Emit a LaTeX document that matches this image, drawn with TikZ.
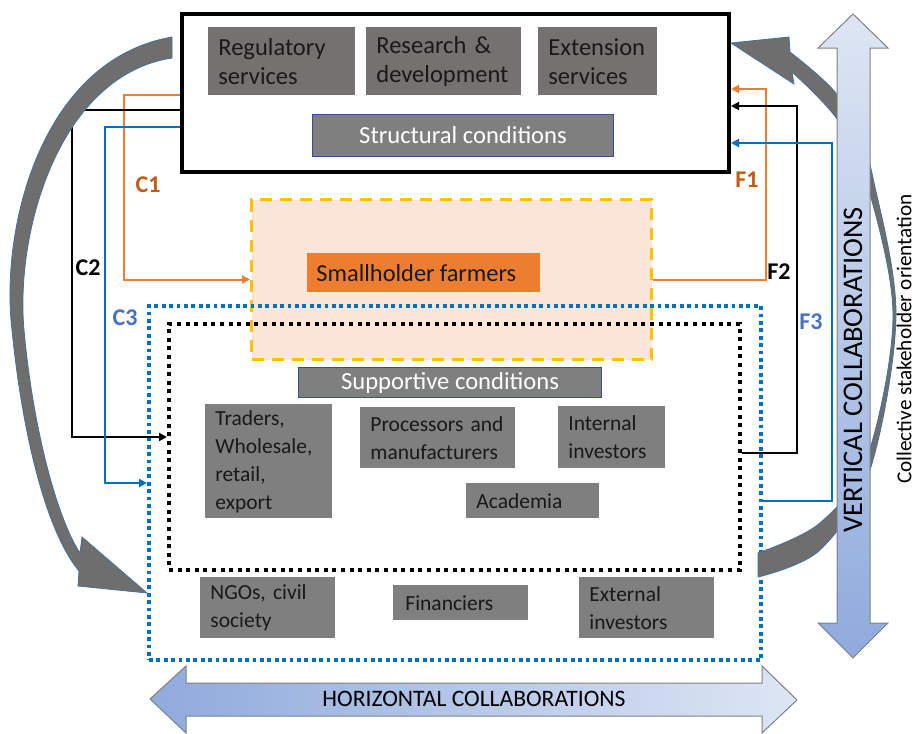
\documentclass[tikz,border=0pt]{standalone}
\usepackage{fontspec}
\setmainfont{Carlito}
\usetikzlibrary{arrows.meta}
\definecolor{srvgray}{HTML}{767171}
\definecolor{boxgray}{HTML}{7F7F7F}
\definecolor{condedge}{HTML}{2F528F}
\definecolor{farmorange}{HTML}{ED7D31}
\definecolor{farmfill}{HTML}{FBE5D6}
\definecolor{farmedge}{HTML}{FFC000}
\definecolor{orangelab}{HTML}{C55A11}
\definecolor{flowblue}{HTML}{0070C0}
\definecolor{bluelab}{HTML}{4472C4}
\definecolor{arcgray}{HTML}{6E6E6E}
\definecolor{arcedge}{HTML}{41719C}
\definecolor{collabdark}{HTML}{8FAADC}
\definecolor{collablight}{HTML}{DEE6F4}
\begin{document}
\begin{tikzpicture}[x=0.5pt, y=-0.5pt,
	service/.style = {fill=srvgray, text=black!90, anchor=north west, align=left,
		inner xsep=5pt, inner ysep=0pt, font=\fontsize{12.25}{14.5}\selectfont},
	cond/.style = {fill=boxgray, draw=condedge, line width=0.5pt, text=white,
		anchor=north west, inner sep=0pt, font=\fontsize{12.3}{14}\selectfont},
	actor/.style = {fill=boxgray, text=black!90, anchor=north west, align=left,
		inner xsep=5pt, inner ysep=0pt, font=\fontsize{10.75}{14}\selectfont},
	zone/.style = {anchor=north west, inner sep=0pt},
	flow/.style = {line width=1pt, -{Triangle[length=4pt,width=4pt]}},
	lab/.style = {font=\fontsize{12}{14}\selectfont\bfseries},
	collab/.style = {draw=gray, line width=0.5pt},
	crescent/.style = {fill=arcgray, draw=arcedge, line width=0.4pt}]
	\useasboundingbox (0,0) rectangle (917,734);
	
	% top level
	\node[zone, draw, line width=2pt, minimum width=273.5pt, minimum height=79pt] (govt) at (180,12) {};
	\node[service, text width=63.5pt, minimum height=34pt] (reg) at (208,27) {Regulatory\\services};
	\node[service, text width=67.5pt, minimum height=34pt] (rnd) at (366,27) {Research \&\\development};
	\node[service, text width=49.5pt, minimum height=34pt] (ext) at (538,27) {Extension\\services};
	\node[cond, minimum width=150.5pt, minimum height=21pt] (struct) at (312,114) {Structural conditions};
	
	% farmers and value chain
	\node[zone, fill=farmfill, draw=farmedge, line width=1.5pt, dash pattern=on 6pt off 4pt,
		minimum width=200pt, minimum height=80pt] (farmzone) at (250,198) {};
	\node[zone, draw=flowblue, line width=2pt, dash pattern=on 1.9pt off 1.8pt,
		minimum width=306pt, minimum height=177pt] (bluezone) at (147,304) {};
	\node[zone, draw=black, line width=2pt, dash pattern=on 2pt off 2.3pt,
		minimum width=285.5pt, minimum height=123pt] (blackzone) at (167,322) {};
	\node[zone, fill=farmorange, text=black!90, align=left, inner xsep=4.5pt, text width=107.5pt,
		minimum height=19.5pt, font=\fontsize{12.2}{14}\selectfont] (farm) at (307,253) {Smallholder\kern-1.5pt{} farmers};
	\node[cond, minimum width=151.5pt, minimum height=15pt] (supp) at (298,367) {Supportive conditions};
	\node[actor, text width=53.5pt, minimum height=57pt] (trade) at (205,404) {Traders,\\Wholesale,\\retail,\\export};
	\node[actor, text width=67.5pt, minimum height=30.5pt] (proc) at (360,407) {Processors and\\manufacturers};
	\node[actor, text width=43.5pt, minimum height=31pt] (intinv) at (558,406) {Internal\\investors};
	\node[actor, text width=56.5pt, minimum height=17.5pt] (acad) at (466,483) {Academia};
	\node[actor, text width=57.5pt, minimum height=30.5pt] (ngo) at (200,577) {NGOs, civil\\society};
	\node[actor, text width=55.5pt, minimum height=17.5pt, inner xsep=6pt] (fin) at (393,585) {Financiers};
	\node[actor, text width=57.5pt, minimum height=30.5pt] (extinv) at (579,577) {External\\investors};
	
	% C and F links
	\draw[flow, farmorange] (govt.west) ++(0,2) -- ++(-56,0) |- (farmzone.west);
	\draw[flow, black] (govt.west) ++(0,17) -- ++(-108,0) |- ([yshift=5pt]blackzone.west);
	\draw[flow, flowblue] (govt.west) ++(0,34) -- ++(-75,0) |- (bluezone.west);
	\draw[flow, farmorange] (farmzone.east) -- ++(113,0) |- ([yshift=2pt]govt.east);
	\draw[flow, black] ([yshift=-3pt]blackzone.east) -- ++(55,0) |- ([yshift=-6.5pt]govt.east);
	\draw[flow, flowblue] ([yshift=-9pt]bluezone.east) -- ++(69,0) |- ([yshift=-25pt]govt.east);
	\node[lab, text=orangelab] (c1) at (148,185) {C1};
	\node[lab] (c2) at (88,268) {C2};
	\node[lab, text=bluelab] (c3) at (125,318) {C3};
	\node[lab, text=orangelab] (f1) at (747,180) {F1};
	\node[lab] (f2) at (779,272) {F2};
	\node[lab, text=bluelab] (f3) at (811,322) {F3};
	
	% orientation arrows
	\path[crescent] (172,37) .. controls (40,60) and (0,230) .. (12,330)
		.. controls (22,430) and (45,530) .. (79,571) -- (78,586) -- (147,593) -- (82,537) -- (80,553)
		.. controls (55,515) and (32,420) .. (24,330) .. controls (15,230) and (60,75) .. (172,58) -- cycle;
	\path[crescent] plot[smooth, tension=0.55] coordinates {(758,577) (820,550) (870,470) (896,315) (873,178) (860,140) (835,92) (790,52)}
		-- (789,37) -- (731,43) -- (794,84) -- (792,72)
		-- plot[smooth, tension=0.55] coordinates {(792,72) (837,119) (866,180) (893,315) (867,458) (820,523) (758,553)} -- cycle;
	\node[rotate=90, font=\fontsize{10.6}{13}\selectfont] (orient) at (904,339) {Collective stakeholder orientation};
	
	% collaborations
	\path[collab, top color=collablight, bottom color=collabdark] (853,14) -- (888,48) -- (870,48)
		-- (870,623) -- (888,623) -- (853,658) -- (818,623) -- (837,623) -- (837,48) -- (818,48) -- cycle;
	\path[collab, left color=collabdark, right color=collablight] (150,699) -- (186,666) -- (186,683)
		-- (762,683) -- (762,666) -- (797,700) -- (762,733) -- (762,716) -- (186,716) -- (186,733) -- cycle;
	\node[rotate=90, font=\fontsize{14.2}{16}\selectfont] (vert) at (853,370) {VERTICAL COLLABORATIONS};
	\node[font=\fontsize{11.8}{13}\selectfont] (horiz) at (474,699) {HORIZONTAL COLLABORATIONS};
\end{tikzpicture}
\end{document}
